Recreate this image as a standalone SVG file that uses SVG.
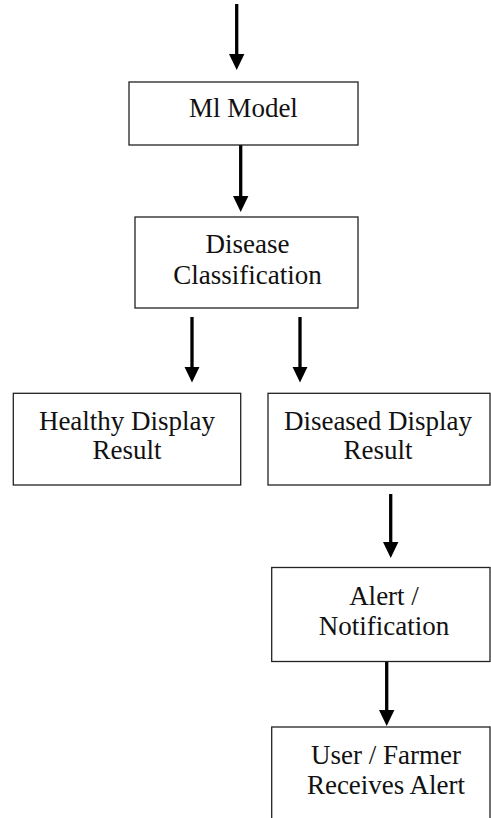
<svg xmlns="http://www.w3.org/2000/svg" width="491" height="818" viewBox="0 0 491 818">
  <defs>
    <style>
      .box { fill: #fff; stroke: #222; stroke-width: 1.3; }
      .lbl { font-family: "Liberation Serif", "Times New Roman", serif; font-size: 27px; fill: #111; text-anchor: middle; }
      .arr { stroke: #000; stroke-width: 3.3; fill: none; marker-end: url(#ah); }
    </style>
    <marker id="ah" markerUnits="userSpaceOnUse" markerWidth="16" markerHeight="16" viewBox="0 0 16 16" refX="8" refY="8" orient="auto">
      <path d="M0,0.3 L16,8 L0,15.7 z" fill="#000"/>
    </marker>
  </defs>
  <rect width="491" height="818" fill="#fff"/>

  <g id="connectors">
    <line class="arr" x1="236.7" y1="4" x2="236.7" y2="62"/>
    <line class="arr" x1="240.7" y1="145" x2="240.7" y2="204"/>
    <line class="arr" x1="192" y1="317" x2="192" y2="374.5"/>
    <line class="arr" x1="300" y1="317" x2="300" y2="374.5"/>
    <line class="arr" x1="390.7" y1="494" x2="390.7" y2="550"/>
    <line class="arr" x1="386.7" y1="662" x2="386.7" y2="718"/>
  </g>

  <g id="ml-model">
    <rect class="box" x="129" y="82" width="229" height="63"/>
    <text class="lbl" x="243.5" y="117">Ml Model</text>
  </g>

  <g id="disease-classification">
    <rect class="box" x="135" y="217" width="223" height="91"/>
    <text class="lbl" x="247.5" y="252.5">Disease</text>
    <text class="lbl" x="247.5" y="283.5">Classification</text>
  </g>

  <g id="healthy-result">
    <rect class="box" x="13.3" y="393.3" width="227.4" height="91.7"/>
    <text class="lbl" x="127" y="429.5">Healthy Display</text>
    <text class="lbl" x="127" y="458.5">Result</text>
  </g>

  <g id="diseased-result">
    <rect class="box" x="268" y="393.3" width="222" height="91.7"/>
    <text class="lbl" x="378" y="429.5">Diseased Display</text>
    <text class="lbl" x="378" y="458.5">Result</text>
  </g>

  <g id="alert-notification">
    <rect class="box" x="271.7" y="567.5" width="218.3" height="94"/>
    <text class="lbl" x="384" y="605">Alert /</text>
    <text class="lbl" x="384" y="635">Notification</text>
  </g>

  <g id="user-receives-alert">
    <rect class="box" x="271.7" y="727" width="218.3" height="110"/>
    <text class="lbl" x="386" y="763.5">User / Farmer</text>
    <text class="lbl" x="386" y="793.5">Receives Alert</text>
  </g>
</svg>
